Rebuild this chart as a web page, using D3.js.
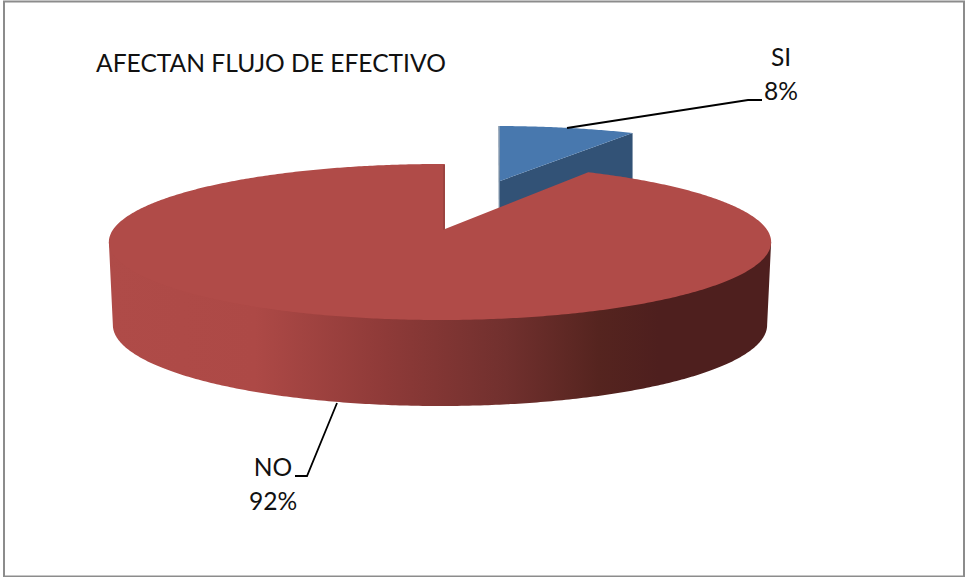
<!DOCTYPE html>
<html>
<head>
<meta charset="utf-8">
<style>
body { margin: 0; background: #fff; }
svg { display: block; }
text { font-family: Lato, "Open Sans", sans-serif; fill: #111; }
.leader { fill: none; stroke: #000; stroke-width: 1.8px; }
</style>
</head>
<body>
<svg width="966" height="577"></svg>
<script src="https://cdnjs.cloudflare.com/ajax/libs/d3/7.8.5/d3.min.js"></script>
<script>
// data
var title = "AFECTAN FLUJO DE EFECTIVO";
var categories = ["SI", "NO"];
var shares = [8.4, 91.6];  // labels round these to 8% and 92%

var topColors = ["#4878ae", "#b04b48"];
var sideColor = "#325276";
var wallStops = [[0, "#af4b48"], [0.22, "#ad4946"], [0.42, "#8e3a38"], [0.6, "#71302e"], [0.74, "#55241f"], [0.83, "#4e1f1e"], [1, "#4e1f1e"]];

var svg = d3.select("svg");
var pct = d3.format(".0%");
var total = d3.sum(shares);

// frame
svg.append("rect")
  .attr("x", 4).attr("y", 1.5).attr("width", 960).attr("height", 575)
  .attr("fill", "none").attr("stroke", "#8c8c8c").attr("stroke-width", 2);

// the disc is seen in perspective, persp shrinks the far side
var persp = -0.1667, rx = 326.5, ry = 37.67;

// angle on the disc -> offset from the middle of the disc on screen
function project(a) {
  var u = Math.sin(a), v = -Math.cos(a), w = 1 + persp * v;
  return [rx * u / w, ry * v / w + 229 * (1 / w - 1)];
}

var arcs = d3.pie().sort(null).startAngle(Math.PI / 180).endAngle(Math.PI / 180 + 2 * Math.PI)(shares);
var line = d3.line();

function sample(a0, a1) {
  var n = Math.ceil(Math.abs(a1 - a0) / 0.01);
  return d3.range(n + 1).map(function(i) { return a0 + (a1 - a0) * i / n; });
}

function rim(a0, a1, cx, cy, kx, ky) {
  return sample(a0, a1).map(function(a) {
    var p = project(a);
    return [cx + kx * p[0], cy + ky * p[1]];
  });
}

// SI slice, pulled out and further back
var si = arcs[0];
var siRim = rim(si.startAngle, si.endAngle, 495, 181, 0.928, 0.846);
var siApex = [500, 181], siDepth = 75;
var siEnd = siRim[siRim.length - 1];

svg.append("path")
  .attr("fill", sideColor)
  .attr("d", line([siApex, siEnd, [siEnd[0], siEnd[1] + siDepth], [siApex[0], siApex[1] + siDepth]]) + "Z");
svg.append("path")
  .attr("fill", topColors[0])
  .attr("d", line([siApex].concat(siRim)) + "Z");
// thin inner face on the left of the slice
svg.append("path")
  .attr("fill", sideColor).attr("opacity", 0.7)
  .attr("d", line([siRim[0], [siRim[0][0] - 1.2, siRim[0][1]], [siApex[0] - 1.2, siApex[1] + siDepth], [siApex[0], siApex[1] + siDepth], siApex]) + "Z");

// NO slice wall, from one side of the disc to the other
var no = arcs[1];
var wallFrom = Math.acos(persp), wallTo = 2 * Math.PI - wallFrom;
var wallTop = rim(wallFrom, wallTo, 440, 229, 1, 1);
// bottom edge: same outline, a little narrower and lower
var wallBottom = wallTop.map(function(p) {
  return [440 + (p[0] - 440) * 327 / 331, 325 + (p[1] - 242) * 81 / 78];
}).reverse();

var grad = svg.append("defs").append("linearGradient")
  .attr("id", "wall").attr("gradientUnits", "userSpaceOnUse")
  .attr("x1", 109).attr("x2", 771).attr("y1", 0).attr("y2", 0);
grad.selectAll("stop").data(wallStops).enter().append("stop")
  .attr("offset", function(d) { return d[0]; })
  .attr("stop-color", function(d) { return d[1]; });

// only the two ends of the top edge, the top face hides the chord between them
svg.append("path")
  .attr("fill", "url(#wall)")
  .attr("d", line([wallTop[0], wallTop[wallTop.length - 1]].concat(wallBottom)) + "Z");

// NO slice top
svg.append("path")
  .attr("fill", topColors[1])
  .attr("d", line([[445, 229]].concat(rim(no.startAngle, no.endAngle, 440, 229, 1, 1))) + "Z");
// thin inner face along the cut
svg.append("path")
  .attr("fill", "#9c4340")
  .attr("d", line([[445, 165], [443, 165], [443, 230], [445, 229]]) + "Z");

// leaders
var leaders = [
  [[567, 128], [748, 100], [762, 100]],
  [[337, 403], [307, 476], [295, 476]]
];
svg.selectAll(".leader").data(leaders).enter().append("path")
  .attr("class", "leader")
  .attr("d", function(d) { return line(d); });

// labels
var labelPos = [[781, 66, 100], [273, 476, 510]];
categories.forEach(function(c, i) {
  svg.append("text").attr("x", labelPos[i][0]).attr("y", labelPos[i][1])
    .attr("text-anchor", "middle").attr("font-size", 24.6).text(c);
  svg.append("text").attr("x", labelPos[i][0]).attr("y", labelPos[i][2])
    .attr("text-anchor", "middle").attr("font-size", 24.6).text(pct(shares[i] / total));
});

svg.append("text").attr("x", 96).attr("y", 72).attr("font-size", 24.6).text(title);
</script>
</body>
</html>
